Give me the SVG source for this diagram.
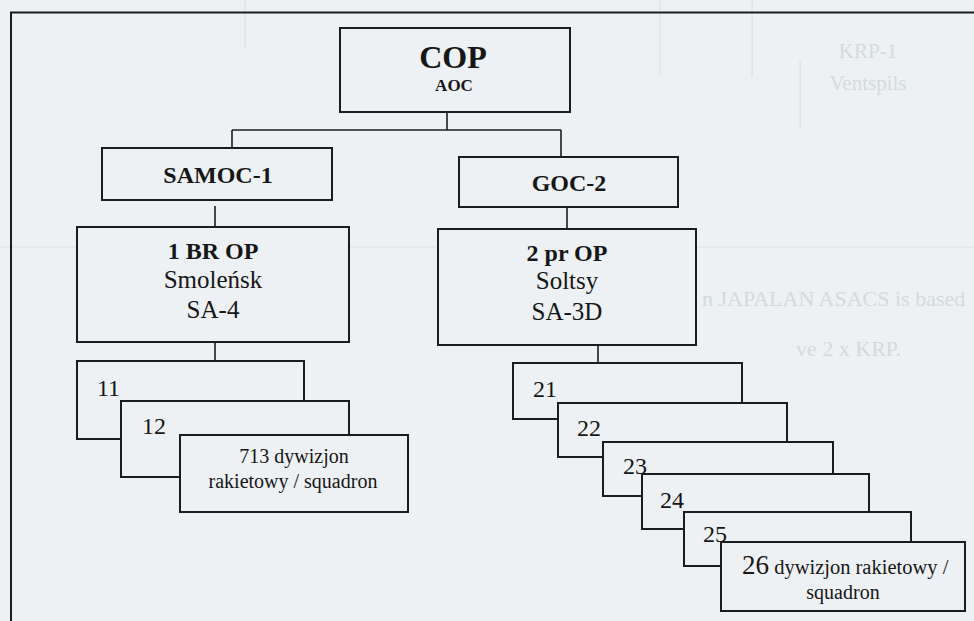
<svg xmlns="http://www.w3.org/2000/svg" width="974" height="621" viewBox="0 0 974 621" font-family="'Liberation Serif', 'DejaVu Serif', serif">
<style>
  .bg { fill: #edf1f3; }
  .box { fill: #edf1f3; stroke: #1c1c1c; stroke-width: 2; }
  .conn { fill: none; stroke: #1c1c1c; stroke-width: 1.6; }
  .frame { fill: none; stroke: #1c1c1c; stroke-width: 2; }
  .ghost { fill: none; stroke: #dde2e4; stroke-width: 1.2; }
  .ghosttxt { fill: #d4dadd; font-family: 'Liberation Serif', serif; }
  .t { font-family: 'Liberation Serif', 'DejaVu Serif', serif; fill: #161616; }
  .b { font-weight: bold; font-size: 24px; }
  .r { font-size: 25px; }
  .num { font-size: 24px; }
  .sm { font-size: 20px; }
  .c { text-anchor: middle; }
</style>
<rect class="bg" x="0" y="0" width="974" height="621"/>

<g id="ghost">
  <path class="ghost" d="M245,0 V48 M660,0 V75 M752,0 V77 M800,60 V130 M0,247 H974"/>
  <text class="ghosttxt" x="868" y="58" font-size="21" text-anchor="middle">KRP-1</text>
  <text class="ghosttxt" x="868" y="90" font-size="21" text-anchor="middle">Ventspils</text>
  <text class="ghosttxt" x="702" y="306" font-size="22">n JAPALAN ASACS is based</text>
  <text class="ghosttxt" x="796" y="356" font-size="22">ve 2 x KRP.</text>
</g>

<path class="frame" d="M11,621 V12.5 H974"/>

<g id="connectors">
  <path class="conn" d="M447,112 V130"/>
  <path class="conn" d="M232,130 H561"/>
  <path class="conn" d="M232,130 V148"/>
  <path class="conn" d="M561,130 V157"/>
  <path class="conn" d="M215,206 V227"/>
  <path class="conn" d="M567,207 V229"/>
  <path class="conn" d="M215,342 V361"/>
  <path class="conn" d="M598,345 V363"/>
</g>

<g id="cop">
  <rect class="box" x="340" y="28" width="230" height="84"/>
  <text class="t c" x="453" y="68" font-size="32" font-weight="bold">COP</text>
  <text class="t c" x="454" y="91" font-size="17" font-weight="bold">AOC</text>
</g>

<g id="samoc1">
  <rect class="box" x="102" y="148" width="230" height="52"/>
  <text class="t b c" x="218" y="183">SAMOC-1</text>
</g>

<g id="goc2">
  <rect class="box" x="459" y="157" width="219" height="50"/>
  <text class="t b c" x="569" y="191">GOC-2</text>
</g>

<g id="br1op">
  <rect class="box" x="77" y="227" width="272" height="115"/>
  <text class="t b c" x="213" y="259">1 BR OP</text>
  <text class="t r c" x="213" y="288">Smoleńsk</text>
  <text class="t r c" x="213" y="318">SA-4</text>
</g>

<g id="pr2op">
  <rect class="box" x="438" y="229" width="258" height="116"/>
  <text class="t b c" x="567" y="261">2 pr OP</text>
  <text class="t r c" x="567" y="289">Soltsy</text>
  <text class="t r c" x="567" y="320">SA-3D</text>
</g>

<g id="n11">
  <rect class="box" x="77" y="361" width="227" height="78"/>
  <text class="t num" x="97" y="396">11</text>
</g>
<g id="n12">
  <rect class="box" x="121" y="401" width="228" height="76"/>
  <text class="t num" x="142" y="434">12</text>
</g>
<g id="n713">
  <rect class="box" x="180" y="435" width="228" height="77"/>
  <text class="t sm c" x="294" y="463">713 dywizjon</text>
  <text class="t sm c" x="293" y="488">rakietowy / squadron</text>
</g>

<g id="n21">
  <rect class="box" x="513" y="363" width="229" height="56"/>
  <text class="t num" x="533" y="397">21</text>
</g>
<g id="n22">
  <rect class="box" x="558" y="403" width="229" height="54"/>
  <text class="t num" x="577" y="436">22</text>
</g>
<g id="n23">
  <rect class="box" x="603" y="442" width="230" height="54"/>
  <text class="t num" x="623" y="474">23</text>
</g>
<g id="n24">
  <rect class="box" x="642" y="474" width="227" height="55"/>
  <text class="t num" x="660" y="508">24</text>
</g>
<g id="n25">
  <rect class="box" x="684" y="512" width="227" height="54"/>
  <text class="t num" x="703" y="542">25</text>
</g>
<g id="n26">
  <rect class="box" x="721" y="542" width="244" height="69"/>
  <text class="t" x="742" y="574"><tspan font-size="27">26</tspan><tspan font-size="20.5"> dywizjon rakietowy /</tspan></text>
  <text class="t sm c" x="843" y="599">squadron</text>
</g>
</svg>
